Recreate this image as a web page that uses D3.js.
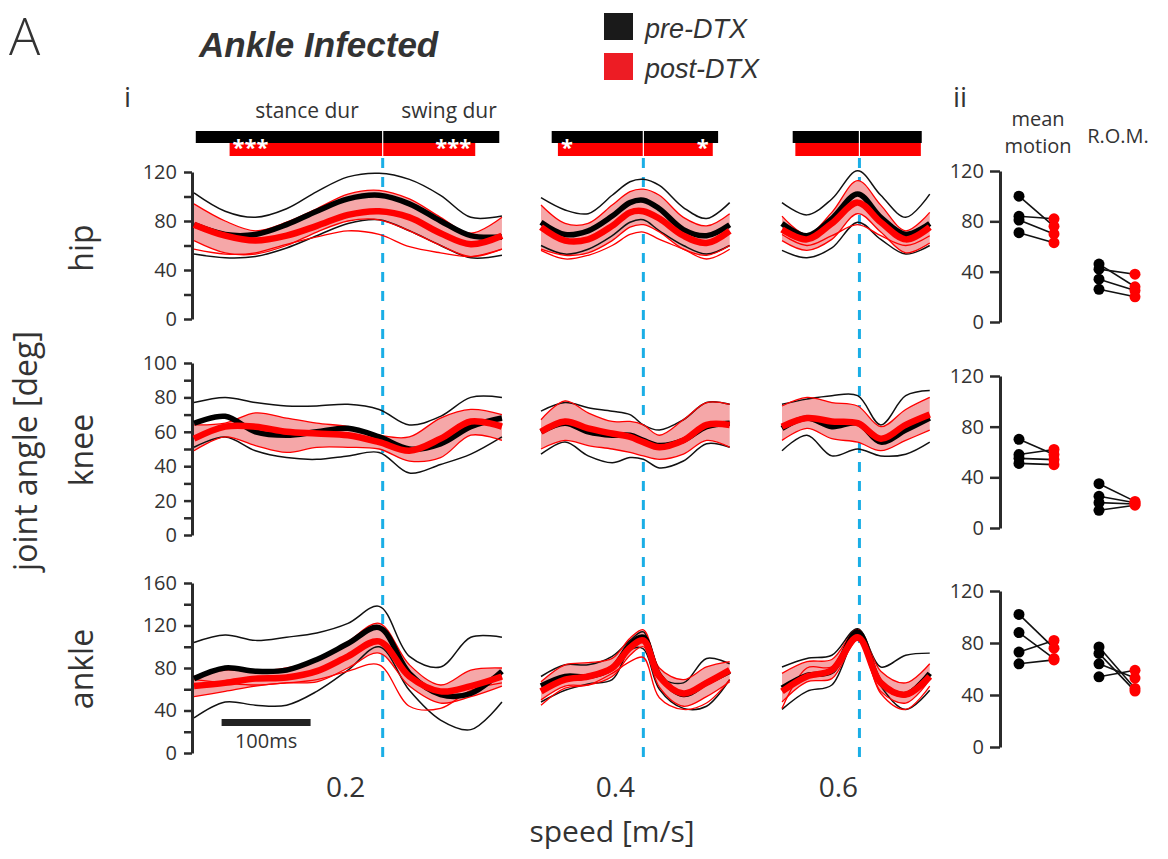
<!DOCTYPE html>
<html>
<head>
<meta charset="utf-8">
<script src="https://cdn.jsdelivr.net/npm/d3@7"></script>
<style>
body { margin: 0; background: #fff; }
svg text { font-family: "Open Sans", sans-serif; fill: #333; }
</style>
</head>
<body>
<script>
// speeds and stride timing (ms)
var speeds = ['0.2', '0.4', '0.6'];
var strideMs = [346, 212, 166];
var stanceEndMs = [212, 115, 87];
var t02 = [0, 35, 69, 104, 138, 173, 208, 242, 277, 311, 346];
var t04 = [0, 27, 53, 80, 100, 115, 133, 160, 186, 212];
var t06 = [0, 28, 56, 85, 111, 139, 166];
var sampleMs = [t02, t04, t06];

// stance / swing durations (ms)
var preStance = [210, 103, 75], preSwing = [131, 84, 70];
var postStance = [172, 96, 72], postSwing = [104, 78, 69];
var stars = ['***', '*', ''];

// hip angle traces [0.2, 0.4, 0.6]
var hipPreMean = [[77, 69, 69, 77, 88, 98, 101, 94, 80, 68, 67],
                  [79, 69, 72, 84, 95, 97, 90, 73, 68, 77],
                  [78, 68, 82, 102, 83, 69, 78]];
var hipPreHi = [[103, 88, 83, 90, 104, 116, 119, 114, 101, 83, 84],
                [99, 89, 86, 101, 112, 114, 109, 91, 82, 95],
                [95, 85, 98, 121, 101, 83, 102]];
var hipPreLo = [[53, 50, 51, 58, 68, 78, 81, 72, 60, 50, 52],
                [60, 53, 57, 68, 79, 81, 72, 60, 53, 60],
                [56, 50, 58, 79, 65, 53, 60]];
var hipPostMean = [[77, 68, 64, 68, 76, 85, 88, 83, 70, 61, 68],
                   [75, 64, 65, 76, 87, 88, 82, 68, 62, 72],
                   [73, 65, 78, 95, 79, 65, 75]];
var hipPostHi = [[94, 80, 72, 79, 90, 102, 105, 98, 83, 70, 83],
                 [93, 78, 78, 93, 104, 106, 101, 83, 76, 86],
                 [84, 69, 87, 113, 93, 72, 87]];
var hipPostLo = [[64, 54, 53, 60, 71, 80, 81, 72, 60, 51, 57],
                 [57, 52, 54, 64, 75, 77, 71, 57, 52, 60],
                 [64, 56, 65, 86, 71, 54, 62]];
var hipPostThin = [[57, 53, 54, 61, 67, 72, 69, 59, 54, 51, 57],
                   [56, 49, 52, 60, 69, 71, 65, 57, 49, 57],
                   [69, 60, 68, 77, 68, 60, 68]];

// knee
var kneePreMean = [[65, 69, 60, 58, 60, 62, 57, 50, 53, 63, 68],
                   [60, 65, 60, 58, 58, 55, 52, 55, 63, 65],
                   [62, 68, 63, 65, 54, 61, 68]];
var kneePreHi = [[77, 80, 77, 75, 75, 76, 73, 64, 69, 80, 80],
                 [72, 77, 74, 72, 70, 64, 61, 67, 77, 76],
                 [76, 79, 81, 81, 64, 81, 84]];
var kneePreLo = [[51, 57, 49, 45, 44, 46, 48, 36, 41, 47, 57],
                 [47, 54, 46, 42, 45, 44, 39, 43, 53, 51],
                 [49, 58, 46, 50, 46, 47, 54]];
var kneePostMean = [[56, 63, 63, 60, 59, 58, 54, 49, 56, 66, 63],
                    [60, 66, 62, 59, 57, 54, 51, 55, 64, 64],
                    [63, 68, 66, 65, 56, 64, 70]];
var kneePostHi = [[64, 65, 71, 68, 65, 63, 58, 57, 68, 73, 70],
                  [67, 78, 71, 66, 66, 64, 58, 67, 77, 76],
                  [75, 80, 77, 75, 63, 73, 80]];
var kneePostLo = [[49, 57, 52, 48, 51, 51, 50, 43, 45, 58, 55],
                  [50, 55, 52, 50, 48, 46, 44, 47, 55, 51],
                  [55, 62, 56, 54, 49, 55, 61]];
var kneePostThin = [[], [], []];

// ankle
var anklePreMean = [[70, 80, 77, 78, 88, 103, 118, 75, 55, 56, 77],
                    [63, 72, 72, 80, 102, 109, 73, 55, 66, 77],
                    [61, 73, 77, 114, 66, 55, 75]];
var anklePreHi = [[104, 111, 106, 109, 113, 122, 138, 91, 81, 109, 109],
                  [72, 83, 83, 91, 106, 114, 72, 66, 89, 84],
                  [81, 89, 92, 117, 81, 92, 94]];
var anklePreLo = [[33, 48, 45, 45, 58, 78, 100, 59, 31, 22, 48],
                  [48, 59, 65, 69, 97, 98, 60, 42, 44, 69],
                  [41, 58, 64, 111, 63, 41, 59]];
var anklePostMean = [[63, 66, 70, 71, 77, 91, 105, 72, 58, 63, 72],
                     [58, 69, 72, 80, 99, 106, 72, 56, 66, 78],
                     [58, 72, 78, 109, 66, 55, 72]];
var anklePostHi = [[72, 78, 77, 80, 88, 105, 122, 83, 64, 78, 80],
                   [67, 83, 85, 89, 108, 116, 80, 69, 81, 86],
                   [75, 86, 88, 116, 77, 66, 84]];
var anklePostLo = [[53, 58, 63, 66, 67, 80, 94, 63, 47, 53, 63],
                   [50, 63, 64, 72, 92, 100, 62, 44, 53, 67],
                   [48, 67, 70, 106, 58, 47, 69]];
var anklePostThin = [[69, 66, 64, 66, 69, 77, 83, 44, 42, 59, 66],
                     [45, 61, 64, 75, 86, 90, 52, 41, 47, 69],
                     [42, 80, 81, 109, 56, 41, 63]];

// panel ii: per-animal values, pre and post
var hipMotionPre = [100, 84, 81, 71], hipMotionPost = [76, 82, 70, 63];
var hipRomPre = [46, 42, 34, 26], hipRomPost = [28, 38, 25, 20];
var kneeMotionPre = [70, 58, 55, 51], kneeMotionPost = [58, 62, 54, 50];
var kneeRomPre = [35, 25, 20, 14], kneeRomPost = [21, 20, 19, 18];
var ankleMotionPre = [102, 88, 73, 64], ankleMotionPost = [76, 68, 82, 67];
var ankleRomPre = [77, 72, 64, 54], ankleRomPost = [45, 43, 53, 59];

var joints = ['hip', 'knee', 'ankle'];
var table = {
  hip: {preMean: hipPreMean, preHi: hipPreHi, preLo: hipPreLo, postMean: hipPostMean, postHi: hipPostHi, postLo: hipPostLo, postThin: hipPostThin,
        mm: [hipMotionPre, hipMotionPost], rom: [hipRomPre, hipRomPost]},
  knee: {preMean: kneePreMean, preHi: kneePreHi, preLo: kneePreLo, postMean: kneePostMean, postHi: kneePostHi, postLo: kneePostLo, postThin: kneePostThin,
        mm: [kneeMotionPre, kneeMotionPost], rom: [kneeRomPre, kneeRomPost]},
  ankle: {preMean: anklePreMean, preHi: anklePreHi, preLo: anklePreLo, postMean: anklePostMean, postHi: anklePostHi, postLo: anklePostLo, postThin: anklePostThin,
        mm: [ankleMotionPre, ankleMotionPost], rom: [ankleRomPre, ankleRomPost]}
};

var W = 1168, H = 859;
var svg = d3.select('body').append('svg').attr('width', W).attr('height', H);

var pxPerMs = 0.89;
var panelLeft = [194, 541, 782];
var axisX = 192;
var rows = [
  {top: 172, bottom: 319, max: 120, minor: 20, major: 40, labelY: 248},
  {top: 363, bottom: 535, max: 100, minor: 10, major: 20, labelY: 450},
  {top: 583, bottom: 753, max: 160, minor: 20, major: 40, labelY: 669}
];
var rowsII = [{top: 171, bottom: 322}, {top: 376, bottom: 528}, {top: 591, bottom: 747}];
var blue = '#1aaee6', red = '#ff0000', pink = '#f5a7a8';

var xScales = speeds.map(function(s, i) {
  return d3.scaleLinear().domain([0, strideMs[i]])
    .range([panelLeft[i], panelLeft[i] + strideMs[i] * pxPerMs]);
});

// headings
svg.append('text').attr('x', 9).attr('y', 55).style('font-size', '52px').style('font-weight', 300).text('A');
svg.append('text').attr('x', 199).attr('y', 57)
  .style('font-family', '"Liberation Sans", Arial, sans-serif')
  .style('font-size', '35px').style('font-weight', 'bold').style('font-style', 'italic')
  .text('Ankle Infected');

var legend = [{c: '#1a1a1a', t: 'pre-DTX', y: 13}, {c: '#ed1c24', t: 'post-DTX', y: 53}];
legend.forEach(function(d) {
  svg.append('rect').attr('x', 604).attr('y', d.y).attr('width', 29).attr('height', 27).attr('fill', d.c);
  svg.append('text').attr('x', 645).attr('y', d.y + 25)
    .style('font-family', '"Liberation Sans", Arial, sans-serif')
    .style('font-size', '27px').style('font-style', 'italic').text(d.t);
});

svg.append('text').attr('x', 124).attr('y', 107).style('font-size', '28px').text('i');
svg.append('text').attr('x', 953).attr('y', 107).style('font-size', '28px').text('ii');
svg.append('text').attr('x', 307).attr('y', 118).attr('text-anchor', 'middle').style('font-size', '21px').text('stance dur');
svg.append('text').attr('x', 449).attr('y', 118).attr('text-anchor', 'middle').style('font-size', '21px').text('swing dur');

// duration bars + stance/swing dividers
speeds.forEach(function(s, i) {
  var x = xScales[i], se = stanceEndMs[i];
  svg.append('rect').attr('x', x(se - preStance[i])).attr('y', 131)
    .attr('width', x(se + preSwing[i]) - x(se - preStance[i])).attr('height', 12).attr('fill', '#000');
  svg.append('rect').attr('x', x(se - postStance[i])).attr('y', 143)
    .attr('width', x(se + postSwing[i]) - x(se - postStance[i])).attr('height', 13).attr('fill', red);
  svg.append('line').attr('x1', x(se)).attr('x2', x(se)).attr('y1', 131).attr('y2', 156)
    .attr('stroke', '#fff').attr('stroke-width', 1.2);
  if (stars[i]) {
    svg.append('text').attr('x', x(se - postStance[i]) + 3).attr('y', 155)
      .style('font-size', '22px').style('font-weight', 'bold').style('fill', '#fff').text(stars[i]);
    svg.append('text').attr('x', x(se + postSwing[i]) - 4).attr('y', 155).attr('text-anchor', 'end')
      .style('font-size', '22px').style('font-weight', 'bold').style('fill', '#fff').text(stars[i]);
  }
  svg.append('line').attr('x1', x(se)).attr('x2', x(se)).attr('y1', 158).attr('y2', 764)
    .attr('stroke', blue).attr('stroke-width', 3).attr('stroke-dasharray', '10,9');
  svg.append('text').attr('x', x(se) - [37, 28, 21][i]).attr('y', 797).attr('text-anchor', 'middle')
    .style('font-size', '28px').text(s);
});

svg.append('text').attr('x', 612).attr('y', 842).attr('text-anchor', 'middle').style('font-size', '30px').text('speed [m/s]');
svg.append('text').attr('transform', 'translate(37,451) rotate(-90)').attr('text-anchor', 'middle')
  .style('font-size', '32px').text('joint angle [deg]');

// main traces
joints.forEach(function(j, r) {
  var row = rows[r], d = table[j];
  var y = d3.scaleLinear().domain([0, row.max]).range([row.bottom, row.top]);

  svg.append('text').attr('transform', 'translate(93,' + row.labelY + ') rotate(-90)')
    .attr('text-anchor', 'middle').style('font-size', '32px').text(j);

  var ax = svg.append('g').attr('transform', 'translate(' + axisX + ',0)')
    .call(d3.axisLeft(y).tickValues(d3.range(0, row.max + 1, row.minor))
      .tickSize(8).tickSizeOuter(0).tickPadding(7)
      .tickFormat(function(v) { return v % row.major === 0 ? v : ''; }));
  ax.select('.domain').attr('stroke', '#2b2b2b').attr('stroke-width', 3);
  ax.selectAll('.tick line').attr('stroke', '#2b2b2b').attr('stroke-width', 2.5);
  ax.selectAll('.tick text').style('font-size', '20px').style('font-family', '"Open Sans", sans-serif').attr('fill', '#333');

  speeds.forEach(function(s, i) {
    var x = xScales[i], ts = sampleMs[i];
    var line = d3.line().x(function(v, k) { return x(ts[k]); }).y(function(v) { return y(v); })
      .curve(d3.curveCatmullRom);
    var area = d3.area().x(function(v, k) { return x(ts[k]); })
      .y0(function(v, k) { return y(d.postLo[i][k]); }).y1(function(v, k) { return y(d.postHi[i][k]); })
      .curve(d3.curveCatmullRom);
    var g = svg.append('g');
    g.append('path').attr('d', area(d.postHi[i])).attr('fill', pink);
    [d.preHi[i], d.preLo[i]].forEach(function(a) {
      g.append('path').attr('d', line(a)).attr('fill', 'none').attr('stroke', '#111').attr('stroke-width', 1.5);
    });
    [d.postHi[i], d.postLo[i], d.postThin[i]].forEach(function(a) {
      if (!a.length) return;
      g.append('path').attr('d', line(a)).attr('fill', 'none').attr('stroke', red).attr('stroke-width', 1.3);
    });
    g.append('path').attr('d', line(d.preMean[i])).attr('fill', 'none').attr('stroke', '#000').attr('stroke-width', 5.5);
    g.append('path').attr('d', line(d.postMean[i])).attr('fill', 'none').attr('stroke', red).attr('stroke-width', 6.5);
  });

  // panel ii
  var r2 = rowsII[r];
  var y2 = d3.scaleLinear().domain([0, 120]).range([r2.bottom, r2.top]);
  var ax2 = svg.append('g').attr('transform', 'translate(1000,0)')
    .call(d3.axisLeft(y2).tickValues([0, 40, 80, 120]).tickSize(10).tickSizeOuter(0).tickPadding(6));
  ax2.select('.domain').attr('stroke', '#2b2b2b').attr('stroke-width', 3);
  ax2.selectAll('.tick line').attr('stroke', '#2b2b2b').attr('stroke-width', 2.5);
  ax2.selectAll('.tick text').style('font-size', '20px').style('font-family', '"Open Sans", sans-serif').attr('fill', '#333');

  var xo = d3.scaleOrdinal().domain(['mm-pre', 'mm-post', 'rom-pre', 'rom-post']).range([1019, 1054, 1099, 1135]);
  [['mm', d.mm], ['rom', d.rom]].forEach(function(p) {
    var pre = p[1][0], post = p[1][1];
    pre.forEach(function(v, k) {
      svg.append('line').attr('x1', xo(p[0] + '-pre')).attr('y1', y2(v))
        .attr('x2', xo(p[0] + '-post')).attr('y2', y2(post[k]))
        .attr('stroke', '#111').attr('stroke-width', 1.6);
    });
    pre.forEach(function(v) {
      svg.append('circle').attr('cx', xo(p[0] + '-pre')).attr('cy', y2(v)).attr('r', 5.5).attr('fill', '#000');
    });
    post.forEach(function(v) {
      svg.append('circle').attr('cx', xo(p[0] + '-post')).attr('cy', y2(v)).attr('r', 5.5).attr('fill', red);
    });
  });
});

svg.append('text').attr('x', 1038).attr('y', 126).attr('text-anchor', 'middle').style('font-size', '20px').text('mean');
svg.append('text').attr('x', 1038).attr('y', 153).attr('text-anchor', 'middle').style('font-size', '20px').text('motion');
svg.append('text').attr('x', 1118).attr('y', 143).attr('text-anchor', 'middle').style('font-size', '20px').text('R.O.M.');

// 100 ms scale bar
svg.append('line').attr('x1', xScales[0](31)).attr('x2', xScales[0](131)).attr('y1', 722.5).attr('y2', 722.5)
  .attr('stroke', '#222').attr('stroke-width', 7);
svg.append('text').attr('x', xScales[0](81)).attr('y', 748).attr('text-anchor', 'middle').style('font-size', '20px').text('100ms');
</script>
</body>
</html>
